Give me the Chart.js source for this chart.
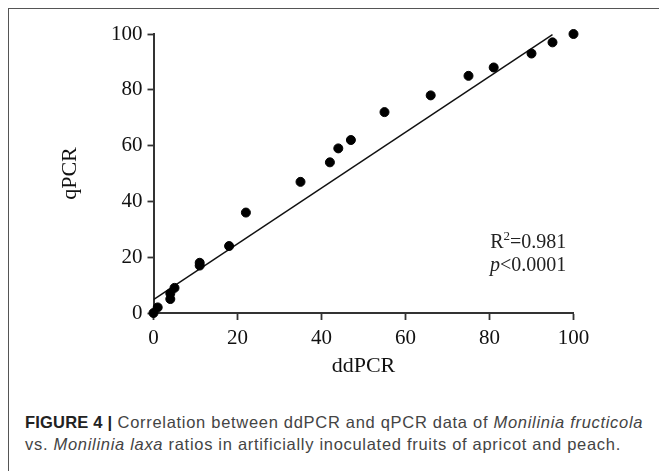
<!DOCTYPE html>
<html>
<head>
<meta charset="utf-8">
<script src="https://cdn.jsdelivr.net/npm/chart.js@4"></script>
<style>
  html, body { margin: 0; padding: 0; background: #fff; }
  body { width: 659px; height: 471px; position: relative; overflow: hidden; }
  .frame {
    position: absolute; left: 8px; top: 8px; width: 700px; height: 480px;
    border-left: 1.5px solid #555; border-top: 1.5px solid #555; box-sizing: border-box;
  }
  #chart-wrap { position: absolute; left: 0; top: 0; width: 659px; height: 390px; }
  .caption {
    position: absolute; left: 25px; top: 411px; width: 640px;
    font-family: "Liberation Sans", Arial, sans-serif; font-size: 16.5px;
    letter-spacing: 0.7px; line-height: 22.4px; color: #444; white-space: nowrap;
  }
  .caption b { color: #222; letter-spacing: 0.2px; }
</style>
</head>
<body>
<div class="frame"></div>
<div id="chart-wrap"><canvas id="corrChart"></canvas></div>
<div class="caption">
  <b>FIGURE 4 |</b> Correlation between ddPCR and qPCR data of <i>Monilinia fructicola</i><br>
  vs. <i>Monilinia laxa</i> ratios in artificially inoculated fruits of apricot and peach.
</div>
<script>
// data
const ddPCR = [0, 1, 4, 4, 5, 11, 11, 18, 22, 35, 42, 44, 47, 55, 66, 75, 81, 90, 95, 100];
const qPCR  = [0, 2, 5, 7, 9, 18, 17, 24, 36, 47, 54, 59, 62, 72, 78, 85, 88, 93, 97, 100];
// regression line end points
const fitX = [0, 95];
const fitY = [4.8, 99.8];
const axisTicks = [0, 20, 40, 60, 80, 100];

document.addEventListener('DOMContentLoaded', () => {
    const ctx = document.getElementById('corrChart');
    const serif = '"Liberation Serif", "Times New Roman", serif';
    const axisColor = '#333';

    // R² / p annotation, placed in data units
    const statsPlugin = {
        id: 'stats',
        afterDatasetsDraw(chart) {
            const c = chart.ctx;
            const xs = chart.scales.x, ys = chart.scales.y;
            const right = xs.getPixelForValue(98.3);
            const y1 = ys.getPixelForValue(25.1);
            const y2 = ys.getPixelForValue(16.8);
            c.save();
            c.fillStyle = '#222';
            c.textBaseline = 'middle';
            c.textAlign = 'left';
            // line 1: R² = 0.981
            const big = '20px ' + serif, small = '13px ' + serif;
            c.font = big;
            const wR = c.measureText('R').width;
            const wRest = c.measureText('=0.981').width;
            c.font = small;
            const w2 = c.measureText('2').width;
            let x = right - (wR + w2 + wRest);
            c.font = big;
            c.fillText('R', x, y1);
            c.font = small;
            c.fillText('2', x + wR, y1 - 6);
            c.font = big;
            c.fillText('=0.981', x + wR + w2, y1);
            // line 2: p<0.0001
            c.font = 'italic 20px ' + serif;
            const wp = c.measureText('p').width;
            c.font = big;
            const wTail = c.measureText('<0.0001').width;
            x = right - wp - wTail;
            c.font = 'italic 20px ' + serif;
            c.fillText('p', x, y2);
            c.font = big;
            c.fillText('<0.0001', x + wp, y2);
            c.restore();
        }
    };

    new Chart(ctx, {
        type: 'scatter',
        data: {
            datasets: [
                {
                    label: 'samples',
                    data: ddPCR.map((v, i) => ({ x: v, y: qPCR[i] })),
                    backgroundColor: '#000',
                    borderColor: '#000',
                    pointRadius: 4.5,
                    pointHoverRadius: 4.5,
                    clip: false
                },
                {
                    label: 'fit',
                    data: fitX.map((v, i) => ({ x: v, y: fitY[i] })),
                    showLine: true,
                    borderColor: '#111',
                    borderWidth: 1.4,
                    pointRadius: 0,
                    fill: false
                }
            ]
        },
        options: {
            responsive: true,
            maintainAspectRatio: false,
            animation: false,
            layout: { padding: { top: 34, right: 85.5, left: 0, bottom: 0 } },
            plugins: {
                legend: { display: false },
                tooltip: { enabled: false }
            },
            scales: {
                x: {
                    type: 'linear',
                    min: 0,
                    max: 100,
                    afterBuildTicks: (s) => { s.ticks = axisTicks.map(v => ({ value: v })); },
                    afterFit: (s) => { s.height = 77; },
                    grid: { drawOnChartArea: false, tickLength: 7, tickColor: axisColor, tickWidth: 1.8 },
                    border: { color: axisColor, width: 2 },
                    ticks: { color: '#111', padding: 6, font: { family: serif, size: 21 } },
                    title: {
                        display: true, text: 'ddPCR', color: '#111',
                        font: { family: serif, size: 22 },
                        padding: { top: 0, bottom: 11 }
                    }
                },
                y: {
                    type: 'linear',
                    min: 0,
                    max: 100,
                    afterBuildTicks: (s) => { s.ticks = axisTicks.map(v => ({ value: v })); },
                    afterFit: (s) => { s.width = 153.5; },
                    grid: { drawOnChartArea: false, tickLength: 6, tickColor: axisColor, tickWidth: 1.8 },
                    border: { color: axisColor, width: 2 },
                    ticks: { color: '#111', padding: 5, font: { family: serif, size: 21 } },
                    title: {
                        display: true, text: 'qPCR', color: '#111',
                        font: { family: serif, size: 22 },
                        padding: { top: 57, bottom: 0 }
                    }
                }
            }
        },
        plugins: [statsPlugin]
    });
});
</script>
</body>
</html>
